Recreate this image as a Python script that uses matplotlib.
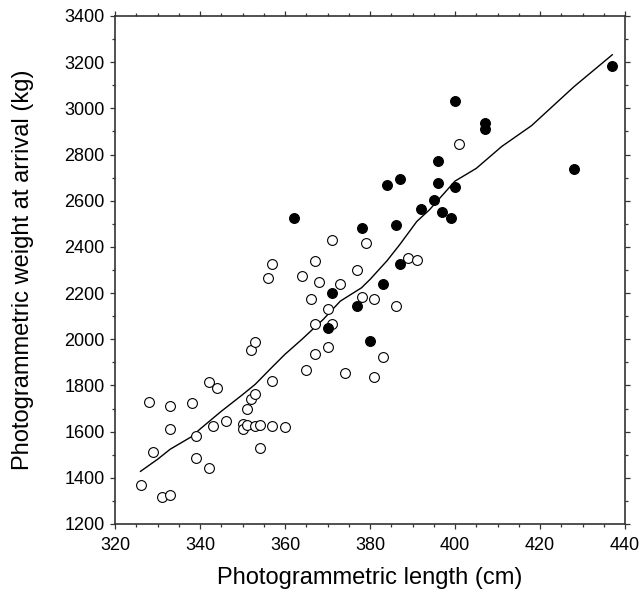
import matplotlib
matplotlib.use("Agg")
import matplotlib.pyplot as plt
from matplotlib.ticker import MultipleLocator

plt.rcParams['font.family'] = ['Liberation Sans', 'DejaVu Sans']

# Open circles
open_x = [326, 331, 333, 329, 328, 333, 333, 338, 339, 339, 342, 342, 344, 343, 346,
          350, 350, 351, 351, 352, 353, 353, 354, 354, 352, 353, 357, 360, 357, 356,
          357, 364, 365, 366, 367, 368, 367, 367, 370, 370, 371, 371, 373, 374, 377,
          378, 379, 381, 381, 383, 386, 389, 391, 401]
open_y = [1370, 1315, 1325, 1510, 1728, 1713, 1612, 1723, 1580, 1487, 1442, 1815, 1790, 1625, 1645,
          1632, 1610, 1630, 1700, 1743, 1762, 1625, 1630, 1528, 1953, 1990, 1625, 1620, 1820, 2267,
          2324, 2272, 1869, 2175, 2340, 2249, 2064, 1937, 2132, 1967, 2430, 2064, 2239, 1856, 2301,
          2181, 2418, 2175, 1836, 1923, 2145, 2350, 2345, 2844]

# Filled circles
filled_x = [362, 370, 371, 377, 378, 380, 383, 384, 386, 387, 387, 392, 395, 396, 396,
            397, 399, 400, 400, 407, 407, 428, 437]
filled_y = [2525, 2047, 2199, 2145, 2480, 1992, 2239, 2670, 2495, 2695, 2325, 2564, 2602, 2772, 2675,
            2550, 2525, 2661, 3030, 2937, 2911, 2738, 3184]

# Smoothed curve
line_x = [326, 330, 333, 338, 340, 345, 350, 353, 357, 360, 364, 369, 373, 378, 380,
          384, 387, 391, 394, 400, 405, 411, 418, 428, 437]
line_y = [1428, 1480, 1524, 1578, 1611, 1688, 1760, 1805, 1880, 1935, 2000, 2086, 2165, 2223, 2259,
          2340, 2410, 2510, 2561, 2685, 2740, 2835, 2925, 3094, 3232]

fig = plt.figure(figsize=(6.43, 5.92), dpi=100)
ax = fig.add_axes([115 / 643, 1 - 524 / 592, 510 / 643, 508 / 592])

ax.plot(line_x, line_y, color='black', lw=1.0, zorder=2)
ax.scatter(open_x, open_y, s=50, facecolors='white', edgecolors='black', linewidths=0.8, zorder=3)
ax.scatter(filled_x, filled_y, s=50, facecolors='black', edgecolors='black', linewidths=0.8, zorder=4)

ax.set_xlim(320, 440)
ax.set_ylim(1200, 3400)
ax.xaxis.set_major_locator(MultipleLocator(20))
ax.xaxis.set_minor_locator(MultipleLocator(5))
ax.yaxis.set_major_locator(MultipleLocator(200))
ax.yaxis.set_minor_locator(MultipleLocator(100))

for s in ax.spines.values():
    s.set_color('#333333')
    s.set_linewidth(1.2)

ax.tick_params(axis='both', which='major', direction='out', length=3.5, width=0.9, color='#333333',
               labelsize=13, top=True, right=True)
ax.tick_params(axis='both', which='minor', direction='out', length=2.2, width=0.9, color='#333333',
               top=True, right=True)
ax.tick_params(axis='x', which='major', pad=6)
ax.tick_params(axis='y', which='major', pad=4)

ax.set_xlabel('Photogrammetric length (cm)', fontsize=17)
ax.set_ylabel('Photogrammetric weight at arrival (kg)', fontsize=17)
ax.xaxis.set_label_coords(0.5, -0.084)
ax.yaxis.set_label_coords(-0.159, 0.5)

fig.savefig('out.png', dpi=100)
